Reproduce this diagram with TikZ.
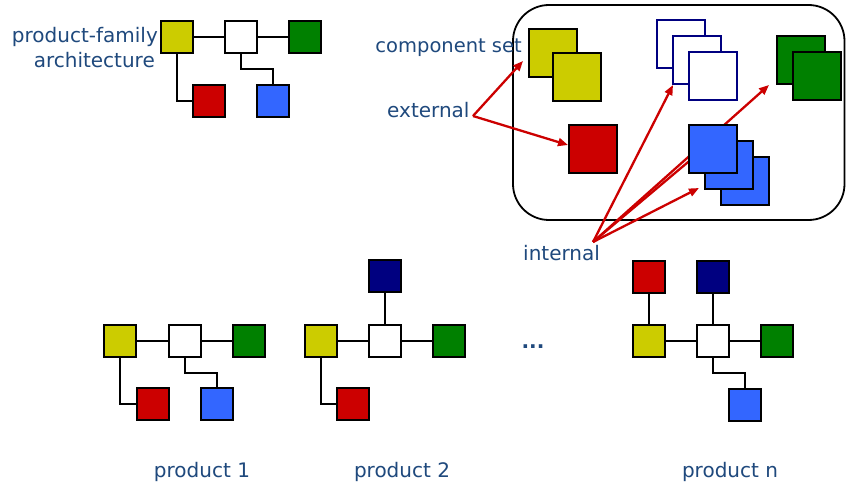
\documentclass[tikz,border=0pt]{standalone}
\usepackage{fontspec}
\setmainfont{DejaVu Sans}
\usetikzlibrary{arrows.meta}
\definecolor{cyel}{RGB}{204,204,0}
\definecolor{cgrn}{RGB}{0,128,0}
\definecolor{cred}{RGB}{204,0,0}
\definecolor{cblu}{RGB}{51,102,255}
\definecolor{cnav}{RGB}{0,0,128}
\definecolor{ctxt}{RGB}{31,73,125}
\definecolor{carr}{RGB}{204,0,0}
\tikzset{
  sq/.style={draw=black, line width=2.3pt, minimum size=32pt, inner sep=0pt, outer sep=0pt},
  bigsq/.style={draw=black, line width=2.3pt, minimum size=48pt, inner sep=0pt, outer sep=0pt},
  wsq/.style={draw=cnav, fill=white, line width=2pt, minimum size=48pt, inner sep=0pt, outer sep=0pt},
  conn/.style={draw=black, line width=2.3pt},
  lbl/.style={text=ctxt, font=\fontsize{20}{24}\selectfont, inner sep=0pt},
  redarr/.style={draw=carr, line width=2.3pt, -{Triangle[length=10pt,width=8pt]}},
}
\begin{document}
\begin{tikzpicture}[x=1pt,y=-1pt]
\useasboundingbox (0,0) rectangle (846,484);
\fill[white] (0,0) rectangle (846,484);

% ---------- product-family architecture ----------
\node[lbl, anchor=base east] (pfa1) at (158,43) {product-family};
\node[lbl, anchor=base east] (pfa2) at (155,68) {architecture};
\node[sq, fill=cyel]  (aY) at (177,37) {};
\node[sq, fill=white] (aW) at (241,37) {};
\node[sq, fill=cgrn]  (aG) at (305,37) {};
\node[sq, fill=cred]  (aR) at (209,101) {};
\node[sq, fill=cblu]  (aB) at (273,101) {};
\draw[conn] (aY) -- (aW);
\draw[conn] (aW) -- (aG);
\draw[conn] (aY.south) |- (aR.west);
\draw[conn] (aW.south) -- ++(0,16) -| (aB.north);

% ---------- component set ----------
\draw[line width=1.8pt, rounded corners=36pt] (513,5) rectangle (844.5,220);
\node[lbl, anchor=base east, font=\fontsize{19.5}{24}\selectfont] (cs) at (522,53) {component set};
\node[lbl, anchor=base west] (ext) at (387,118) {external};
\node[lbl, anchor=base west] (int) at (523,260) {internal};

\coordinate (extO) at (473,116);
\coordinate (extT1) at (523,61);
\coordinate (extT2) at (568,145);
\coordinate (intO) at (593,242);
\coordinate (intT1) at (673,85);
\coordinate (intT2) at (700,152);
\coordinate (intT3) at (699,188);
\coordinate (intT4) at (769,85);
\draw[redarr] (extO) -- (extT1);
\draw[redarr] (extO) -- (extT2);
\draw[redarr] (intO) -- (intT1);
\draw[draw=carr, line width=2.3pt] (intO) -- (intT2);
\draw[redarr] (intO) -- (intT3);
\draw[redarr] (intO) -- (intT4);

\node[bigsq, fill=cyel] (cY1) at (553,53) {};
\node[bigsq, fill=cyel] (cY2) at (577,77) {};
\node[wsq] (cW1) at (681,44) {};
\node[wsq] (cW2) at (697,60) {};
\node[wsq] (cW3) at (713,76) {};
\node[bigsq, fill=cgrn] (cG1) at (801,60) {};
\node[bigsq, fill=cgrn] (cG2) at (817,76) {};
\node[bigsq, fill=cred] (cR) at (593,149) {};
\node[bigsq, fill=cblu] (cB3) at (745,181) {};
\node[bigsq, fill=cblu] (cB2) at (729,165) {};
\node[bigsq, fill=cblu] (cB1) at (713,149) {};

% ---------- product 1 ----------
\node[sq, fill=cyel]  (p1Y) at (120,341) {};
\node[sq, fill=white] (p1W) at (185,341) {};
\node[sq, fill=cgrn]  (p1G) at (249,341) {};
\node[sq, fill=cred]  (p1R) at (153,404) {};
\node[sq, fill=cblu]  (p1B) at (217,404) {};
\draw[conn] (p1Y) -- (p1W);
\draw[conn] (p1W) -- (p1G);
\draw[conn] (p1Y.south) |- (p1R.west);
\draw[conn] (p1W.south) -- ++(0,16) -| (p1B.north);
\node[lbl, anchor=base] (p1L) at (202,477) {product 1};

% ---------- product 2 ----------
\node[sq, fill=cyel]  (p2Y) at (321,341) {};
\node[sq, fill=white] (p2W) at (385,341) {};
\node[sq, fill=cgrn]  (p2G) at (449,341) {};
\node[sq, fill=cnav]  (p2N) at (385,276) {};
\node[sq, fill=cred]  (p2R) at (353,404) {};
\draw[conn] (p2Y) -- (p2W);
\draw[conn] (p2W) -- (p2G);
\draw[conn] (p2N) -- (p2W);
\draw[conn] (p2Y.south) |- (p2R.west);
\node[lbl, anchor=base] (p2L) at (402,477) {product 2};

% ---------- dots ----------
\node[lbl, anchor=base, font=\bfseries\fontsize{20}{24}\selectfont] (dots) at (533,348) {...};

% ---------- product n ----------
\node[sq, fill=cred]  (pnR) at (649,277) {};
\node[sq, fill=cnav]  (pnN) at (713,277) {};
\node[sq, fill=cyel]  (pnY) at (649,341) {};
\node[sq, fill=white] (pnW) at (713,341) {};
\node[sq, fill=cgrn]  (pnG) at (777,341) {};
\node[sq, fill=cblu]  (pnB) at (745,405) {};
\draw[conn] (pnR) -- (pnY);
\draw[conn] (pnN) -- (pnW);
\draw[conn] (pnY) -- (pnW);
\draw[conn] (pnW) -- (pnG);
\draw[conn] (pnW.south) -- ++(0,16) -| (pnB.north);
\node[lbl, anchor=base] (pnL) at (730,477) {product n};
\end{tikzpicture}
\end{document}
